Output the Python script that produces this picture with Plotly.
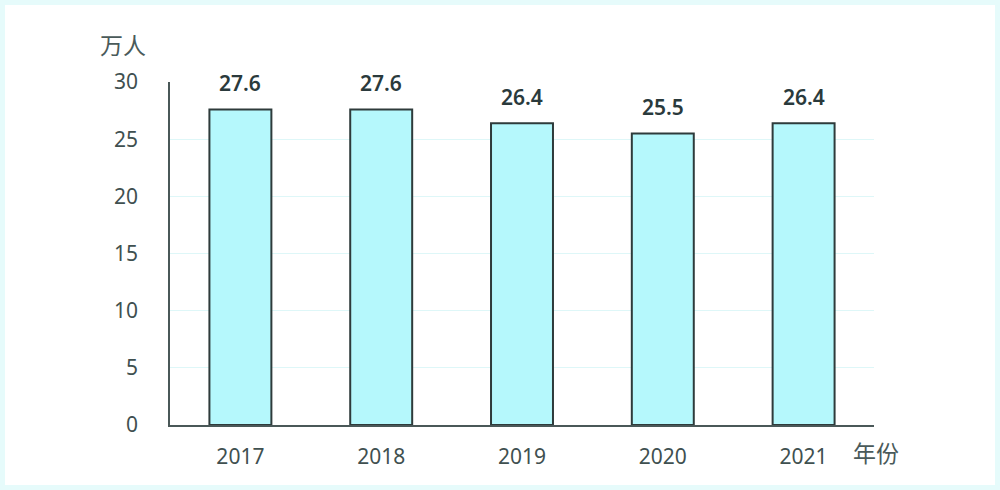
import plotly.graph_objects as go

years = ["2017", "2018", "2019", "2020", "2021"]
values = [27.6, 27.6, 26.4, 25.5, 26.4]
y_ticks = [0, 5, 10, 15, 20, 25, 30]

L, R, T, B = 170, 126, 82, 65
W, H = 1000, 490
pw, ph = W - L - R, H - T - B

def px(x):
    return (x - L) / pw

def py(y):
    return (H - B - y) / ph

fig = go.Figure()
fig.add_trace(go.Bar(
    x=years, y=values, width=0.44,
    marker=dict(color="#b5f8fc", line=dict(color="#2e3b3b", width=2)),
    hoverinfo="skip",
))

for i, v in enumerate(values):
    fig.add_annotation(x=i, y=v, text=f"{v:.1f}", showarrow=False, yshift=26,
                       font=dict(family="Noto Sans", size=21, weight=600, color="#2a3a3c"))

fig.add_annotation(x=px(123), y=py(44), xref="paper", yref="paper", text="万人",
                   xanchor="center", yanchor="middle",
                   showarrow=False, font=dict(family="Noto Sans CJK SC", size=23, color="#4a5a5a"))
fig.add_annotation(x=px(876), y=py(452), xref="paper", yref="paper", text="年份",
                   xanchor="center", yanchor="middle",
                   showarrow=False, font=dict(family="Noto Sans CJK SC", size=23, color="#4a5a5a"))

fig.add_shape(type="rect", xref="paper", yref="paper",
              x0=px(0), x1=px(W), y0=py(H), y1=py(0),
              line=dict(color="#e6fbfb", width=10), layer="below")

fig.update_layout(
    width=W, height=H,
    margin=dict(l=L, r=R, t=T, b=B),
    paper_bgcolor="white", plot_bgcolor="white",
    showlegend=False,
    xaxis=dict(type="category", range=[-0.5, 4.5], showline=True, linecolor="#4a5858",
               linewidth=1.5, showgrid=False, ticks="", ticklabelstandoff=12,
               tickfont=dict(family="Noto Sans", size=21, color="#3f5050")),
    yaxis=dict(range=[0, 30], tickvals=y_ticks, showline=True, linecolor="#4a5858",
               linewidth=1.5, gridcolor="#def7f8", gridwidth=1, zeroline=False,
               ticks="", ticklabelstandoff=26,
               tickfont=dict(family="Noto Sans", size=21, color="#3f5050")),
)

fig.write_html("out.html", config={"displayModeBar": False},
               post_script="document.body.style.margin='0';")
